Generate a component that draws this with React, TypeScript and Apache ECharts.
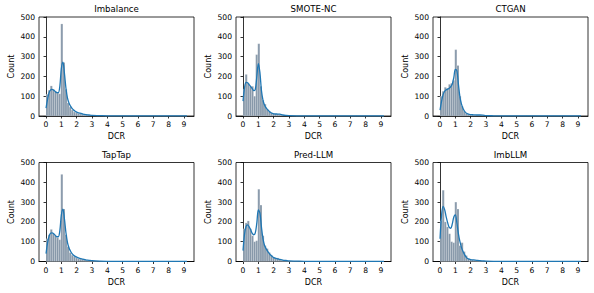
import React, { useEffect, useRef } from "react";
import * as echarts from "echarts";

// ---------- data ----------
const TITLES = ["Imbalance", "SMOTE-NC", "CTGAN", "TapTap", "Pred-LLM", "ImbLLM"];
const X_TICKS = [0, 1, 2, 3, 4, 5, 6, 7, 8, 9];
const Y_MAX = 500;
const BIN_START = 0;
const BIN_WIDTH = 9.2 / 67;

const COUNTS_IMBALANCE = [
  110, 130, 152, 135, 125, 118, 112, 465, 270, 135,
  66, 45, 30, 20, 16, 12, 10, 8, 6, 5,
  4, 3, 2, 2, 1, 1, 1, 1, 0, 0,
  0, 0, 0, 0, 0, 0, 0, 0, 0, 0,
  0, 0, 0, 0, 0, 0, 0, 0, 0, 0,
  0, 0, 0, 0, 0, 0, 0, 0, 0, 0,
  0, 0, 0, 0, 0, 0, 1,
];
const COUNTS_SMOTENC = [
  135, 210, 165, 150, 150, 100, 310, 365, 150, 80,
  60, 35, 22, 15, 12, 10, 10, 8, 6, 4,
  3, 2, 2, 1, 1, 0, 0, 0, 0, 0,
  0, 0, 0, 0, 0, 0, 0, 0, 0, 0,
  0, 0, 0, 0, 0, 0, 0, 0, 0, 0,
  0, 0, 0, 0, 0, 0, 0, 0, 0, 0,
  0, 0, 0, 0, 0, 0, 1,
];
const COUNTS_CTGAN = [
  100, 125, 145, 140, 160, 165, 180, 335, 255, 100,
  50, 25, 12, 8, 6, 5, 4, 4, 3, 3,
  2, 2, 1, 1, 0, 0, 0, 0, 0, 0,
  0, 0, 0, 0, 0, 0, 0, 0, 0, 0,
  0, 0, 0, 0, 0, 0, 0, 0, 0, 0,
  0, 0, 0, 0, 0, 0, 0, 0, 0, 0,
  0, 0, 0, 0, 0, 0, 1,
];
const COUNTS_TAPTAP = [
  115, 135, 162, 140, 130, 120, 110, 440, 265, 135,
  75, 45, 32, 24, 18, 14, 12, 12, 8, 6,
  4, 3, 2, 2, 1, 1, 1, 1, 1, 0,
  0, 0, 0, 0, 0, 0, 0, 0, 0, 0,
  0, 0, 0, 0, 0, 0, 0, 0, 0, 0,
  0, 0, 0, 0, 0, 0, 0, 0, 0, 0,
  0, 0, 0, 0, 0, 0, 1,
];
const COUNTS_PREDLLM = [
  165, 195, 205, 165, 130, 100, 105, 365, 285, 130,
  80, 65, 45, 30, 22, 15, 18, 10, 6, 5,
  4, 3, 2, 2, 1, 1, 0, 0, 0, 0,
  0, 0, 0, 0, 0, 0, 0, 0, 0, 0,
  0, 0, 0, 0, 0, 0, 0, 0, 0, 0,
  0, 0, 0, 0, 0, 0, 0, 0, 0, 0,
  0, 0, 0, 0, 0, 0, 1,
];
const COUNTS_IMBLLM = [
  205, 360, 200, 175, 140, 100, 95, 300, 265, 80,
  95, 50, 30, 15, 10, 8, 6, 4, 3, 2,
  2, 1, 1, 0, 0, 0, 0, 0, 0, 0,
  0, 0, 0, 0, 0, 0, 0, 0, 0, 0,
  0, 0, 0, 0, 0, 0, 0, 0, 0, 0,
  0, 0, 0, 0, 0, 0, 0, 0, 0, 0,
  0, 0, 0, 0, 0, 0, 1,
];

const KDE_X = [
  0, 0.1, 0.2, 0.3, 0.4, 0.5, 0.6, 0.7, 0.8, 0.9, 1.0, 1.1, 1.2, 1.3, 1.4, 1.5, 1.6, 1.7, 1.8, 1.9, 2.0,
  2.2, 2.4, 2.6, 2.8, 3.0, 3.5, 4, 5, 6, 7, 8, 9.2,
];
const KDE_IMBALANCE = [
  40, 85, 118, 132, 134, 130, 124, 118, 118, 150, 240, 272, 215, 140, 90, 65, 50, 38, 30, 24, 20,
  14, 10, 7, 5, 3, 2, 1, 0.5, 0.3, 0.2, 0.2, 0.2,
];
const KDE_SMOTENC = [
  75, 145, 170, 168, 158, 148, 138, 128, 135, 200, 265, 220, 130, 80, 55, 42, 32, 24, 18, 14, 11,
  10, 9, 5, 3, 2, 1, 0.5, 0.3, 0.2, 0.2, 0.2, 0.2,
];
const KDE_CTGAN = [
  30, 75, 108, 125, 132, 136, 140, 148, 162, 195, 235, 228, 160, 95, 60, 38, 24, 15, 11, 8, 7,
  6, 5, 5, 4, 2, 1, 0.5, 0.3, 0.2, 0.2, 0.2, 0.2,
];
const KDE_TAPTAP = [
  40, 95, 128, 143, 145, 140, 132, 125, 125, 155, 235, 265, 215, 145, 95, 68, 52, 40, 32, 26, 22,
  16, 12, 8, 6, 4, 2, 1, 0.5, 0.3, 0.2, 0.2, 0.2,
];
const KDE_PREDLLM = [
  55, 140, 178, 185, 175, 160, 142, 135, 145, 195, 260, 245, 175, 115, 82, 65, 52, 42, 33, 26, 20,
  15, 11, 7, 5, 3, 2, 1, 0.5, 0.3, 0.2, 0.2, 0.2,
];
const KDE_IMBLLM = [
  115, 235, 278, 262, 225, 195, 172, 168, 190, 225, 235, 195, 140, 100, 70, 50, 35, 22, 15, 12, 10,
  8, 6, 4, 3, 2, 1, 0.5, 0.3, 0.2, 0.2, 0.2, 0.2,
];

const ALL_COUNTS = [COUNTS_IMBALANCE, COUNTS_SMOTENC, COUNTS_CTGAN, COUNTS_TAPTAP, COUNTS_PREDLLM, COUNTS_IMBLLM];
const ALL_KDE = [KDE_IMBALANCE, KDE_SMOTENC, KDE_CTGAN, KDE_TAPTAP, KDE_PREDLLM, KDE_IMBLLM];

// ---------- layout / style ----------
const FONT = "DejaVu Sans";
const COL_LEFT = [39, 236, 433];
const ROW_TOP = [17, 162.5];
const W = 155;
const H = 99;
const X_MIN = -0.46;
const X_MAX = 9.66;
const BAR_FILL = "#8798a9";
const KDE_COLOR = "#1f77b4";
const TITLE_SIZE = 8.6;

export default function App() {
  const ref = useRef<HTMLDivElement>(null);

  useEffect(() => {
    document.body.style.margin = "0";
    const chart = echarts.init(ref.current!, null, { renderer: "svg" });

    const grids: any[] = [];
    const xAxes: any[] = [];
    const yAxes: any[] = [];
    const series: any[] = [];
    const titles: any[] = [];
    const axisLineStyle = { color: "#000", width: 0.8 };
    const tickStyle = { color: "#000", fontFamily: FONT, fontSize: 7.6 };
    const nameStyle = { color: "#000", fontFamily: FONT, fontSize: 8 };

    TITLES.forEach((title, i) => {
      const col = i % 3;
      const row = Math.floor(i / 3);
      const left = COL_LEFT[col];
      const top = ROW_TOP[row];
      grids.push({
        left,
        top,
        width: W,
        height: H,
        show: true,
        borderColor: "#000",
        borderWidth: 0.8,
        backgroundColor: "transparent",
        containLabel: false,
      });
      xAxes.push({
        type: "value",
        gridIndex: i,
        min: X_MIN,
        max: X_MAX,
        name: "DCR",
        nameLocation: "middle",
        nameGap: 16.5,
        nameTextStyle: { ...nameStyle },
        axisLine: { show: true, onZero: false, lineStyle: axisLineStyle },
        axisTick: { show: true, inside: false, length: 2.5, customValues: X_TICKS, lineStyle: axisLineStyle },
        axisLabel: { ...tickStyle, margin: 4.5, customValues: X_TICKS },
        splitLine: { show: false },
      });
      yAxes.push({
        type: "value",
        gridIndex: i,
        min: 0,
        max: Y_MAX,
        interval: 100,
        name: "Count",
        nameLocation: "middle",
        nameGap: 24,
        nameRotate: 90,
        nameTextStyle: { ...nameStyle },
        axisLine: { show: true, lineStyle: axisLineStyle },
        axisTick: { show: true, inside: false, length: 2.5, lineStyle: axisLineStyle },
        axisLabel: { ...tickStyle, margin: 4 },
        splitLine: { show: false },
      });

      const counts = ALL_COUNTS[i];
      const barData = counts.map((c, j) => [
        BIN_START + j * BIN_WIDTH,
        BIN_START + (j + 1) * BIN_WIDTH,
        c,
      ]);
      series.push({
        type: "custom",
        xAxisIndex: i,
        yAxisIndex: i,
        encode: { x: [0, 1], y: 2 },
        data: barData,
        z: 2,
        renderItem: (params: any, api: any) => {
          const x0 = api.value(0);
          const x1 = api.value(1);
          const c = api.value(2);
          const p0 = api.coord([x0, c]);
          const p1 = api.coord([x1, 0]);
          return {
            type: "rect",
            shape: { x: p0[0], y: p0[1], width: p1[0] - p0[0], height: p1[1] - p0[1] },
            style: { fill: BAR_FILL, stroke: "rgba(255,255,255,0.45)", lineWidth: 0.4 },
          };
        },
      });
      const kde = ALL_KDE[i];
      series.push({
        type: "line",
        xAxisIndex: i,
        yAxisIndex: i,
        data: KDE_X.map((x, j) => [x, kde[j]]),
        showSymbol: false,
        smooth: 0.35,
        z: 3,
        lineStyle: { color: KDE_COLOR, width: 1.3 },
      });

      titles.push({
        text: title,
        left: left + W / 2,
        top: top - 7 - TITLE_SIZE / 2 - 1,
        textAlign: "center",
        padding: 0,
        itemGap: 0,
        textStyle: {
          fontSize: TITLE_SIZE,
          fontWeight: "normal",
          fontFamily: FONT,
          color: "#000",
        },
      });
    });

    chart.setOption({
      animation: false,
      backgroundColor: "#fff",
      title: titles,
      grid: grids,
      xAxis: xAxes,
      yAxis: yAxes,
      series,
    });

    return () => chart.dispose();
  }, []);

  return (
    <div
      ref={ref}
      style={{ position: "absolute", left: 0, top: 0, width: 594, height: 293 }}
    />
  );
}
